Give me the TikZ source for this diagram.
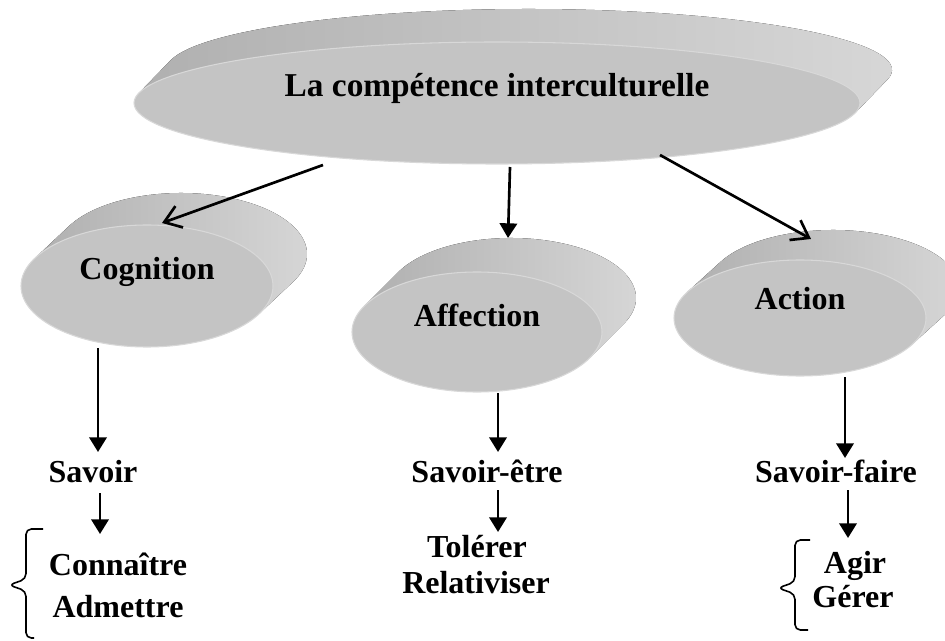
\documentclass[tikz,border=0pt]{standalone}
\usepackage{fontspec}
\setmainfont{Liberation Serif}
\usepackage{tikz}
\usetikzlibrary{shapes.geometric,arrows.meta,calc,backgrounds}
\definecolor{diskface}{HTML}{C4C4C4}
\definecolor{diskrim}{HTML}{D8D8D8}
\definecolor{sideleft}{HTML}{B0B0B0}
\definecolor{sidemid}{HTML}{9A9A9A}
\definecolor{sideright}{HTML}{D8D8D8}

\begin{document}
\begin{tikzpicture}[x=0.75pt, y=-0.75pt,
	every node/.style={font=\fontsize{24}{28}\selectfont\bfseries},
	disk/.style={ellipse, fill=diskface, draw=diskrim, line width=0.8pt, inner sep=0pt, text height=17pt, text depth=26pt},
	word/.style={anchor=base, inner sep=0pt},
	open arrow/.style={-{Straight Barb[length=12pt,width=17pt]}, line width=2pt},
	solid arrow/.style={-{Triangle[length=11pt,width=13pt]}, line width=2pt},
	brace line/.style={line width=1.2pt, rounded corners=4pt},
	disk side/.style={left color=sideleft, middle color=sidemid, right color=sideright}]
		\useasboundingbox (0,0) rectangle (945,641);
		
		\node[disk, minimum width=544.5pt, minimum height=91.5pt, font=\fontsize{25}{28}\selectfont\bfseries] (top) at (497,103) {La compétence interculturelle};
		
		\node[disk, minimum width=189pt, minimum height=91.5pt] (cog) at (147,286) {Cognition};
		
		\node[disk, minimum width=187.5pt, minimum height=90pt] (aff) at (477,332) {Affection};
		
		\node[disk, minimum width=189pt, minimum height=87pt, text depth=29pt] (act) at (800,318) {Action};
		
		% side of each disk, behind the front face
		\begin{scope}[on background layer]
		\foreach \n/\rx/\ry/\dx/\dy in {top/363/61/32/-33, cog/126/61/34/-32, aff/125/60/34/-34, act/126/58/33/-30}{
			\pgfmathsetmacro\ta{atan(-\ry*\dx/(\rx*(\dy)))}
			\fill[disk side] (\n.center) ++({\rx*cos(\ta)},{\ry*sin(\ta)}) -- ++(\dx,\dy)
				arc[start angle=\ta, end angle=\ta-180, x radius=\rx, y radius=\ry] -- ++({-(\dx)},{-(\dy)}) -- cycle;
		}
		\end{scope}
		
		\node[word] (sav) at (93,482) {Savoir};
		\node[word] (conn) at (118,575) {Connaître};
		\node[word] (adm) at (118,617) {Admettre};
		
		\node[word] (sete) at (487,482) {Savoir-être};
		\node[word] (tol) at (477,557) {Tolérer};
		\node[word] (rel) at (476,593) {Relativiser};
		
		\node[word] (sfaire) at (836,482) {Savoir-faire};
		\node[word] (agir) at (855,573) {Agir};
		\node[word] (gerer) at (853,607) {Gérer};
		
		\draw[open arrow] ($(top.center)+(-174,62)$) -- ($(cog.center)+(15,-63)$);
		\draw[solid arrow] ($(top.center)+(13,64)$) -- ($(aff.center)+(31,-94)$);
		\draw[open arrow] ($(top.center)+(163,52)$) -- ($(act.center)+(11,-79)$);
		
		\draw[solid arrow] ($(cog.center)+(-49,62)$) -- ($(sav.base)+(5,-30)$);
		\draw[solid arrow] ($(sav.base)+(7,11)$) -- ($(conn.base)+(-18,-41)$);
		
		\draw[solid arrow] ($(aff.center)+(21,61)$) -- ($(sete.base)+(11,-30)$);
		\draw[solid arrow] ($(sete.base)+(11,8)$) -- ($(tol.base)+(21,-25)$);
		
		\draw[solid arrow] ($(act.center)+(45,59)$) -- ($(sfaire.base)+(9,-24)$);
		\draw[solid arrow] ($(sfaire.base)+(12,8)$) -- ($(agir.base)+(-7,-35)$);
		
		\draw[brace line] (43,529) -- (26,529) -- (26,579) -- (9,585) -- (26,591) -- (26,638) -- (34,638);
		\draw[brace line] (810,540) -- (795,540) -- (795,582) -- (778,588) -- (795,594) -- (795,630) -- (808,630);
\end{tikzpicture}
\end{document}
